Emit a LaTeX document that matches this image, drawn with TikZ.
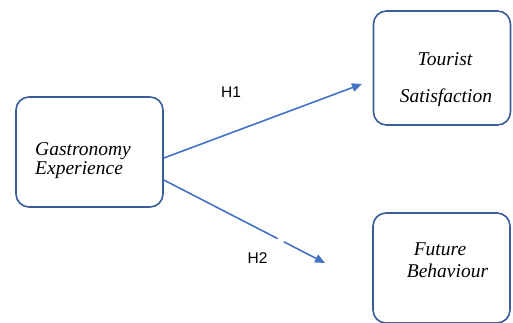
\documentclass[tikz,border=0pt]{standalone}
\usepackage{fontspec}
\setmainfont{Liberation Serif}
\newfontfamily\hfont{Liberation Sans}
\usetikzlibrary{arrows.meta}
\definecolor{boxblue}{HTML}{3A5C99}
\definecolor{arrblue}{HTML}{4472C4}
\tikzset{
  box/.style={draw=boxblue, line width=1.6pt, rounded corners=13pt, inner sep=0pt},
  lbl/.style={inner sep=0pt, font=\fontsize{19.5}{21}\selectfont\itshape},
  hlbl/.style={inner sep=0pt, font=\hfont\fontsize{15.5}{17}\selectfont},
  conn/.style={draw=arrblue, line width=1.6pt, -{Triangle[length=10pt,width=8.5pt]}}
}
\begin{document}
\begin{tikzpicture}[x=1pt,y=-1pt]
\useasboundingbox (0,0) rectangle (513,322);
\clip (0,0) rectangle (513,322);
% boxes
\node[box, minimum width=147pt, minimum height=110pt] (ge) at (89.5,152) {};
\node[box, minimum width=137pt, minimum height=114pt] (ts) at (442,68) {};
\node[box, minimum width=137pt, minimum height=110pt] (fb) at (441.5,268) {};
% texts
\node[lbl, anchor=base west] (g1) at (35,155) {Gastronomy};
\node[lbl, anchor=base west] (g2) at (35,174) {Experience};
\node[lbl, anchor=base] (t1) at (445,65) {Tourist};
\node[lbl, anchor=base] (t2) at (446,102) {Satisfaction};
\node[lbl, anchor=base] (f1) at (440,255) {Future};
\node[lbl, anchor=base] (f2) at (447.5,277) {Behaviour};
% arrow ends
\coordinate (e1) at (362,84);
\coordinate (e2) at (325,263);
\draw[conn] ([yshift=-6pt]ge.east) -- (e1);
\draw[conn, dash pattern=on 128pt off 7pt on 200pt] ([yshift=-28pt]ge.east) -- (e2);
% labels
\node[hlbl] (h1) at (231,92) {H1};
\node[hlbl] (h2) at (257.5,258) {H2};
\end{tikzpicture}
\end{document}
